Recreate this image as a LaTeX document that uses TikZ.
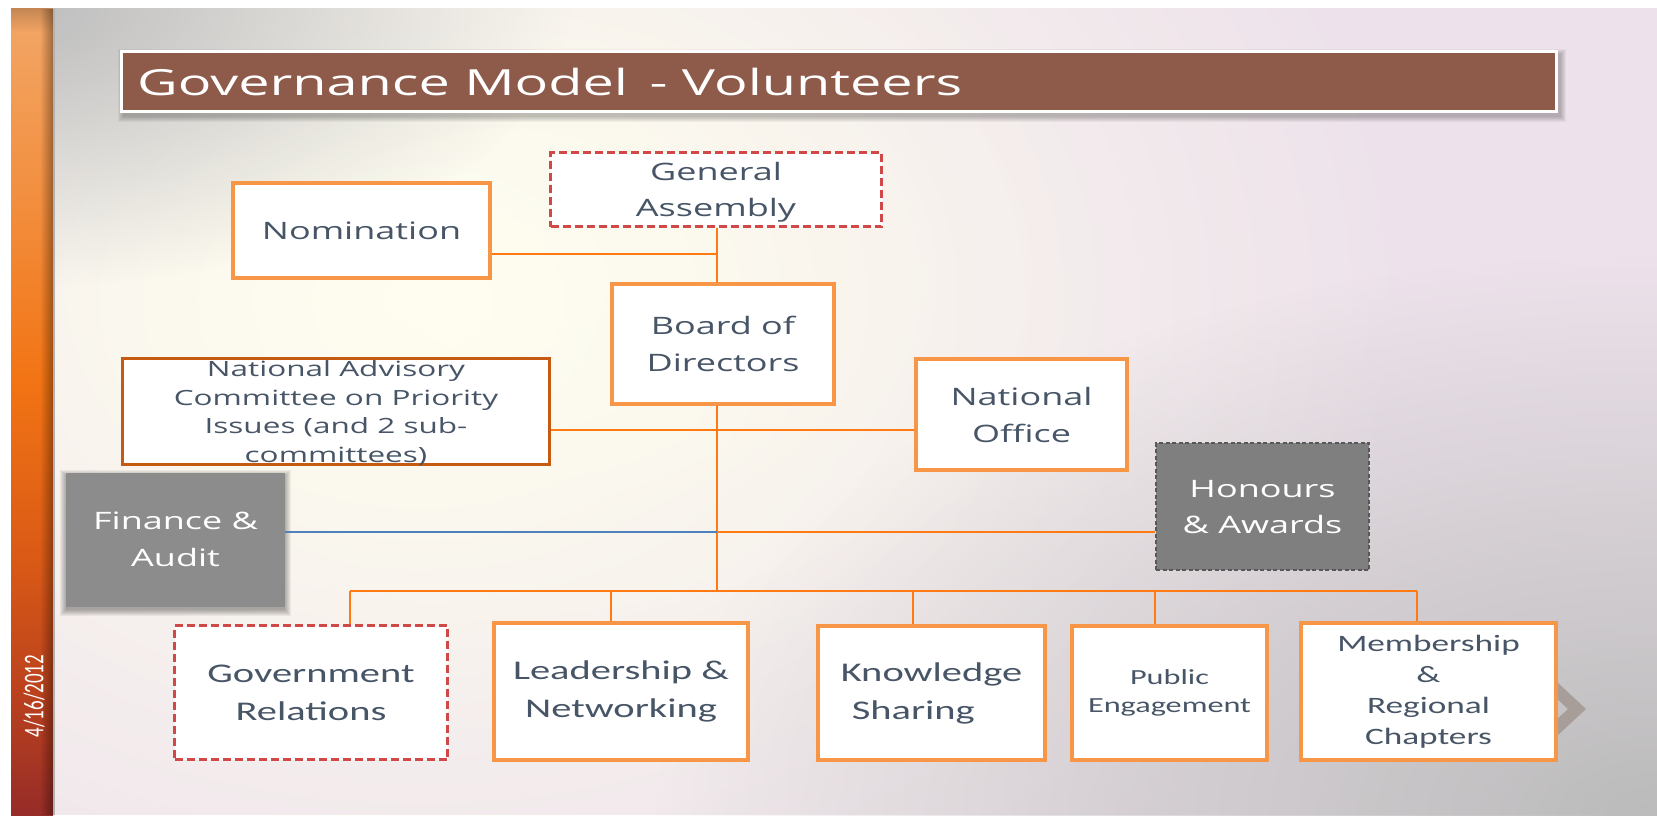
\documentclass[tikz,border=0pt]{standalone}
\usepackage{fontspec}
\usepackage{graphicx}
\usetikzlibrary{fadings}

\newfontfamily\titlefont[FakeStretch=1.55]{Open Sans}
\newfontfamily\upperfont[FakeStretch=1.5]{Open Sans}
\newfontfamily\lowerfont[FakeStretch=1.5]{Carlito}
\newfontfamily\datefont{Carlito}

% centred block of lines, shifted down by #1 without taking up height
\newcommand\boxlines[2]{\raisebox{-#1}[0pt][0pt]{\begin{tabular}{@{}c@{}}#2\end{tabular}}}

% palette
\definecolor{boxorange}{RGB}{247,150,70}
\definecolor{lineorange}{RGB}{255,122,18}
\definecolor{nacbrown}{RGB}{197,90,17}
\definecolor{dashred}{RGB}{208,72,72}
\definecolor{slate}{RGB}{71,85,103}
\definecolor{titlebrown}{RGB}{142,91,75}
\definecolor{fingray}{RGB}{140,140,140}
\definecolor{hongray}{RGB}{127,127,127}
\definecolor{hondash}{RGB}{88,88,88}
\definecolor{linkblue}{RGB}{79,129,189}
\definecolor{chevcol}{RGB}{168,158,153}

% slide background tints
\definecolor{bgbase}{RGB}{237,226,235}
\definecolor{bgcream}{RGB}{255,254,240}
\definecolor{bgcorner}{RGB}{189,189,189}
\definecolor{bgdeep}{RGB}{187,187,187}
\tikzfading[name=softdisc, inner color=transparent!0, outer color=transparent!100]

% orange side bar, bottom (25bp) to top (75bp)
\definecolor{bara}{RGB}{150,44,40}
\definecolor{barb}{RGB}{184,64,30}
\definecolor{barc}{RGB}{218,90,22}
\definecolor{bard}{RGB}{242,116,20}
\definecolor{bare}{RGB}{242,142,62}
\definecolor{barf}{RGB}{242,164,98}
\definecolor{barg}{RGB}{196,134,84}
\pgfdeclareverticalshading{barshade}{100bp}{color(0bp)=(bara); color(25bp)=(bara);
  color(32bp)=(barb); color(41bp)=(barc); color(52bp)=(bard); color(63bp)=(bare);
  color(73.5bp)=(barf); color(75bp)=(barg); color(100bp)=(barg)}

\pgfdeclarelayer{bglayer}
\pgfdeclarelayer{shadowlayer}
\pgfdeclarelayer{linklayer}
\pgfsetlayers{bglayer,shadowlayer,linklayer,main}

\tikzset{
  basebox/.style={inner sep=0pt, align=center},
  orgbox/.style={basebox, draw=boxorange, line width=4pt, fill=white, text=slate},
  nacbox/.style={basebox, draw=nacbrown, line width=3pt, fill=white, text=slate},
  redbox/.style={basebox, draw=dashred, line width=2.5pt, dash pattern=on 8pt off 4pt, fill=white, text=slate},
  finbox/.style={basebox, fill=fingray, text=white},
  honbox/.style={basebox, fill=hongray, draw=hondash, line width=2pt, dash pattern=on 4pt off 2.5pt, text=white},
  uptext/.style={font={\upperfont\fontsize{24}{36.5}\selectfont}},
  nactext/.style={font={\upperfont\fontsize{21}{28.7}\selectfont}},
  lowtext/.style={font={\lowerfont\fontsize{27}{38}\selectfont}},
  link/.style={draw=lineorange, line width=2.8pt},
  bluelink/.style={draw=linkblue, line width=2pt},
}

\begin{document}
\begin{tikzpicture}[x=1pt, y=-1pt]
\useasboundingbox (0,0) rectangle (1657,815);

% ---------- slide background and side bar ----------
\begin{pgfonlayer}{bglayer}
  \fill[white] (0,0) rectangle (1657,815);
  \begin{scope}
    \clip (11,8) rectangle (1657,815);
    \fill[bgbase] (11,8) rectangle (1657,815);
    \fill[bgcream, path fading=softdisc] (420,300) ellipse [x radius=1000, y radius=750];
    \fill[bgcream, opacity=0.6, path fading=softdisc] (500,280) ellipse [x radius=650, y radius=450];
    \fill[bgdeep, path fading=softdisc] (1657,815) ellipse [x radius=1000, y radius=560];
    \fill[bgcorner, path fading=softdisc] (11,8) ellipse [x radius=560, y radius=280];
  \end{scope}
  \shade[shading=barshade] (11,8) rectangle (53,815);
  \fill[black, opacity=0.35, path fading=west] (40,8) rectangle (53,815);
  \fill[black!30] (53,8) rectangle (55,815);
\end{pgfonlayer}

\node[rotate=90, text=white, font={\datefont\fontsize{19}{19}\selectfont}, inner sep=0pt]
  (date) at (34,696) {\scalebox{1}[1.5]{4/16/2012}};

% ---------- title bar ----------
\node[fill=titlebrown, draw=white, line width=3pt, minimum width=1435, minimum height=60, inner sep=0pt]
  (title) at (839,81.5) {};
\node[anchor=base west, text=white, inner sep=0pt, font={\titlefont\fontsize{36}{40}\selectfont}]
  (titletext) at (137,95) {Governance Model\hspace{7pt} - Volunteers};

% ---------- upper part of the chart ----------
\node[redbox, uptext, minimum width=331, minimum height=74] (ga) at (716,189.5)
  {\boxlines{8pt}{General\\Assembly}};
\node[orgbox, uptext, minimum width=257, minimum height=95] (nom) at (361.5,230.5) {Nomination};
\node[orgbox, uptext, minimum width=222, minimum height=120] (bod) at (723,344)
  {\boxlines{8pt}{Board of\\Directors}};
\node[nacbox, nactext, minimum width=427, minimum height=106] (nac) at (336,411.5)
  {\boxlines{7.5pt}{National Advisory\\Committee on Priority\\Issues (and 2 sub-\\committees)}};
\node[orgbox, uptext, minimum width=211, minimum height=111] (no) at (1021.5,414.5)
  {\boxlines{8.5pt}{National\\Office}};
\node[honbox, uptext, minimum width=213, minimum height=127] (hon) at (1262.5,506.5)
  {\boxlines{8pt}{Honours\\\& Awards}};
\node[finbox, uptext, minimum width=219, minimum height=134] (fin) at (175.5,540)
  {\boxlines{7pt}{Finance \&\\Audit}};

% ---------- committees ----------
\node[redbox, lowtext, minimum width=273, minimum height=134] (gr) at (311,692.5) {Government\\Relations};
\node[orgbox, lowtext, minimum width=254, minimum height=137] (ln) at (621,691.5) {Leadership \&\\Networking};
\node[orgbox, lowtext, align=left, minimum width=227, minimum height=134] (ks) at (931.5,693)
  {Knowledge\\\hspace*{11pt}Sharing};
\node[orgbox, font={\lowerfont\fontsize{21.5}{28}\selectfont}, minimum width=195, minimum height=134]
  (pe) at (1169.5,693) {Public\\Engagement};
\node[orgbox, font={\lowerfont\fontsize{23.5}{31}\selectfont}, minimum width=255, minimum height=137]
  (mr) at (1428.5,691.5) {Membership\\\&\\Regional\\Chapters};

% ---------- soft shadows ----------
\begin{pgfonlayer}{shadowlayer}
  \foreach \k in {0,...,5}
    \fill[black, opacity=0.045]
      ([xshift=3pt-\k pt, yshift=-4pt+\k pt]title.north west)
      rectangle ([xshift=3pt+\k pt, yshift=-4pt-\k pt]title.south east);
  \foreach \k in {0,...,6}
    \fill[black, opacity=0.05]
      ([xshift=-\k pt, yshift=-3pt+\k pt]fin.north west)
      rectangle ([xshift=\k pt, yshift=-3pt-\k pt]fin.south east);
\end{pgfonlayer}

% ---------- connectors ----------
\coordinate (jnom) at (717,254);
\coordinate (jnac) at (717,430);
\coordinate (jfin) at (717,532);
\coordinate (jbus) at (717,591);
\coordinate (busgr) at (350,591);
\coordinate (busln) at (611,591);
\coordinate (busks) at (913,591);
\coordinate (buspe) at (1155,591);
\coordinate (busmr) at (1417,591);

\begin{pgfonlayer}{linklayer}
  \draw[link] (ga.south -| jnom) -- (bod.north -| jnom);
  \draw[link] (nom.east |- jnom) -- (jnom);
  \draw[link] (nac.east |- jnac) -- (no.west |- jnac);
  \draw[link] (bod.south -| jbus) -- (jbus);
  \draw[bluelink] (fin.east |- jfin) -- (jfin);
  \draw[link] (jfin) -- (hon.west |- jfin);
  \draw[link] (busgr) -- (busmr);
  \draw[link] (busgr) -- (gr.north -| busgr);
  \draw[link] (busln) -- (ln.north -| busln);
  \draw[link] (busks) -- (ks.north -| busks);
  \draw[link] (buspe) -- (pe.north -| buspe);
  \draw[link] (busmr) -- (mr.north -| busmr);
  % chevron peeking out from behind the last committee box
  \fill[chevcol] (1540,683) -- (1558,683) -- (1586,709) -- (1558,735) -- (1540,735) -- (1568,709) -- cycle;
\end{pgfonlayer}
\end{tikzpicture}
\end{document}
